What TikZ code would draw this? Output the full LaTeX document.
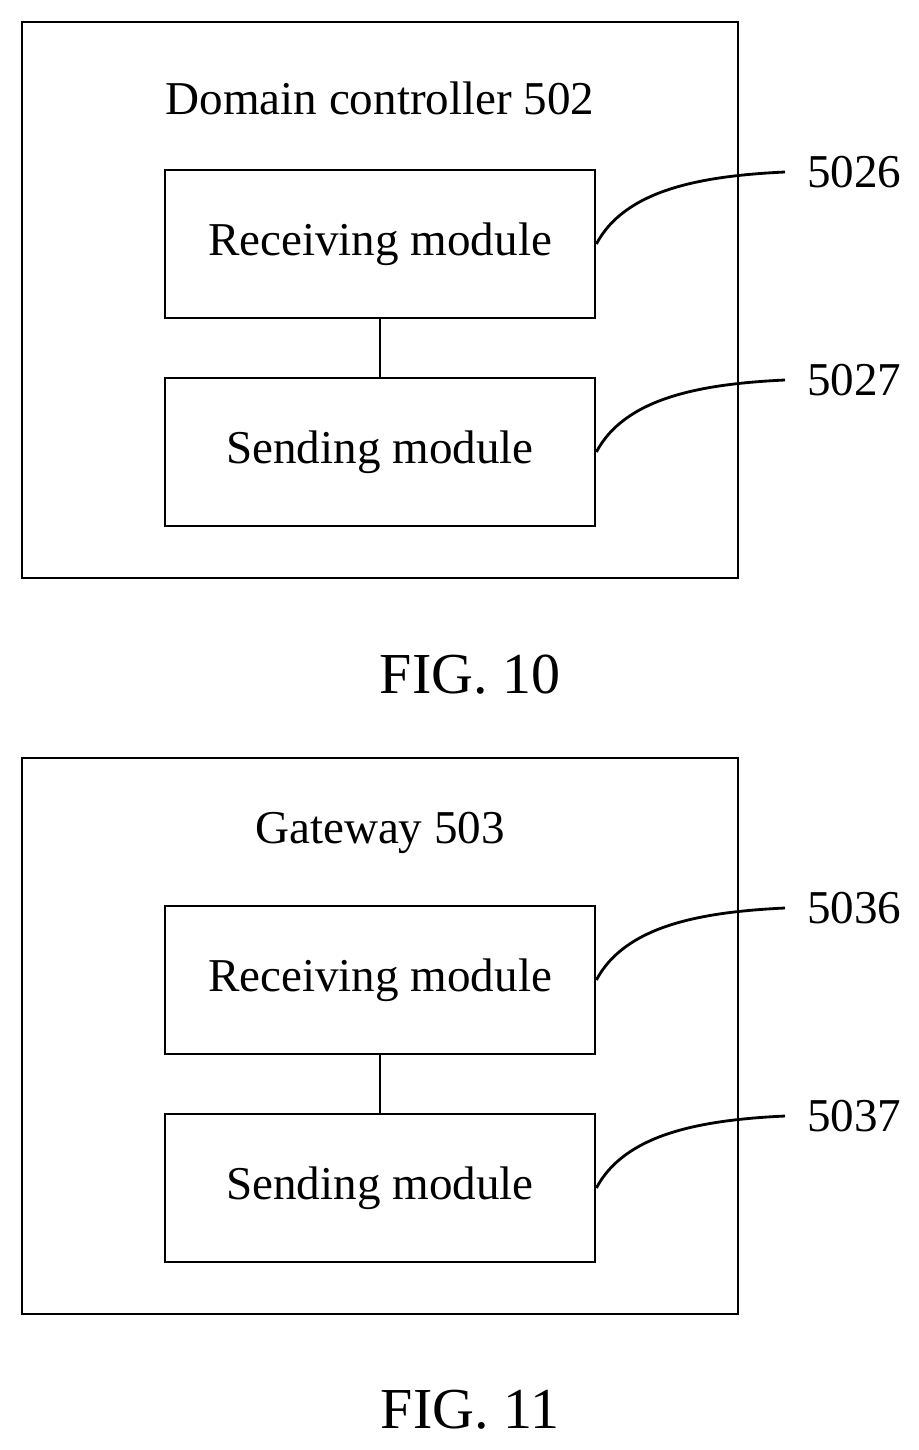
\documentclass[tikz,border=0pt]{standalone}
\usepackage{fontspec}
\setmainfont{Liberation Serif}
\usetikzlibrary{positioning}
\begin{document}
\begin{tikzpicture}[x=0.02cm,y=-0.02cm,
  line width=1.6pt,
  module/.style={draw, rectangle, minimum width=8.6cm, minimum height=2.96cm, font=\fontsize{26.8}{30}\selectfont},
  frame/.style={draw, rectangle, minimum width=14.32cm, minimum height=11.12cm},
  title/.style={font=\fontsize{26.8}{30}\selectfont},
  ref/.style={anchor=west, font=\fontsize{26.8}{30}\selectfont},
  figlabel/.style={font=\fontsize{33}{38}\selectfont}]
\useasboundingbox (0,0) rectangle (919,1450);

% FIG. 10
\node[frame] (dc) at (380,300) {};
\node[title] (dctitle) at (380,98) {Domain controller 502};
\node[module] (dcrecv) at (380,244) {Receiving module};
\node[module] (dcsend) at (380,452) {Sending module};
\draw (dcrecv) -- (dcsend);
\node[ref] (r5026) at (800,172) {5026};
\node[ref] (r5027) at (800,380) {5027};
\draw (dcrecv.east) .. controls (625,190) and (700,176) .. ([xshift=-0.3cm]r5026.west);
\draw (dcsend.east) .. controls (625,398) and (700,384) .. ([xshift=-0.3cm]r5027.west);
\node[figlabel] (fig10) at (470,675) {FIG. 10};

% FIG. 11
\node[frame] (gw) at (380,1036) {};
\node[title] (gwtitle) at (380,833) {Gateway 503};
\node[module] (gwrecv) at (380,980) {Receiving module};
\node[module] (gwsend) at (380,1188) {Sending module};
\draw (gwrecv) -- (gwsend);
\node[ref] (r5036) at (800,908) {5036};
\node[ref] (r5037) at (800,1116) {5037};
\draw (gwrecv.east) .. controls (625,926) and (700,912) .. ([xshift=-0.3cm]r5036.west);
\draw (gwsend.east) .. controls (625,1134) and (700,1120) .. ([xshift=-0.3cm]r5037.west);
\node[figlabel] (fig11) at (470,1410) {FIG. 11};
\end{tikzpicture}
\end{document}
